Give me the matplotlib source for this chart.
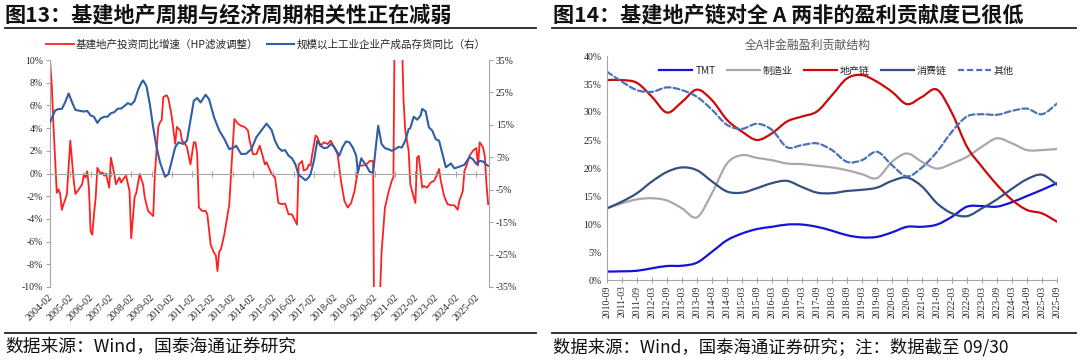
import numpy as np
import matplotlib.pyplot as plt
from matplotlib.path import Path
from matplotlib.patches import PathPatch
from matplotlib.lines import Line2D

plt.rcParams['font.family'] = ['Noto Sans CJK SC', 'DejaVu Sans']
NUM_FONT = 'Liberation Serif'

# ---------------------------------------------------------------------------
# Left chart data (month offset from 2004-02, value in %)
# ---------------------------------------------------------------------------
red_m = [0, 1, 2, 3, 4, 5, 6, 7, 8, 9, 10, 11, 12, 13, 14, 15, 17, 19, 20, 21,
         22, 23, 24, 25, 26, 27, 28, 30, 31, 32, 33, 35, 36, 38, 39, 41, 42, 44,
         45, 47, 48, 50, 51, 53, 55, 56, 58, 59, 61, 62, 64, 65, 66, 67, 69, 70,
         72, 74, 75, 77, 78, 80, 81, 83, 85, 86, 87, 88, 90, 92, 93, 95, 97, 98,
         99, 100, 101, 103, 105, 106, 107, 109, 111, 113, 115, 117, 118, 120,
         122, 124, 126, 127, 128, 131, 133, 135, 137, 139, 141, 143, 145, 146,
         147, 149, 150, 152, 153, 154, 155, 157, 158, 160, 162, 164, 166, 168,
         170, 172, 174, 176, 178, 180, 182, 183, 185, 187, 189, 191, 192, 193,
         194, 195, 196, 198, 200, 202, 203, 204, 205, 206, 207, 208, 209, 210,
         212, 213, 215, 216, 217, 218, 220, 221, 223, 225, 227, 229, 230, 231,
         233, 235, 237, 239, 241, 242, 244, 245, 246, 248, 250, 252, 253, 254,
         256, 257, 258, 259]
red_v = [10.0, 7.9, 4.4, 1.4, -1.7, -1.4, -1.8, -3.2, -2.7, -2.3, -1.8, 0.5,
         2.9, 1.2, -0.6, -1.8, -1.4, -0.95, -0.05, -0.35, 0.2, -1.25, -5.1, -5.4,
         -3.6, -2.1, 0.5, -0.05, 0.1, -0.2, 0.0, -1.25, 1.4, -0.05, -0.95, -0.35,
         -0.8, -0.35, -0.2, -1.55, -5.7, -2.1, -1.7, -0.05, -0.95, -2.1, -3.3,
         -3.45, -3.75, -0.05, 4.1, 4.5, 4.7, 6.75, 6.9, 6.6, 5.0, 2.6, 4.1, 3.8,
         2.9, 2.6, 2.3, 0.8, 2.75, 2.75, 1.7, -3.0, -3.3, -3.3, -3.6, -6.3, -7.0,
         -7.2, -8.6, -6.9, -6.7, -5.4, -3.6, -2.7, -0.05, 4.8, 4.4, 4.2, 4.1, 3.8,
         2.9, 1.7, 1.7, 2.45, 1.4, 0.8, 1.0, -0.05, -0.35, -2.6, -2.7, -2.65,
         -3.6, -3.6, -4.2, -4.5, 0.8, 1.1, 0.25, 0.4, 0.8, 0.7, 1.7, 3.35, 3.2,
         2.45, 2.75, 2.6, 2.9, 2.3, 1.7, -0.65, -2.4, -3.0, -2.6, -1.55, 0.25,
         0.7, 0.7, 0.8, 1.1, 1.1, -24.0, -26.0, -22.0, -11.0, -6.9, -3.0, -1.7,
         -0.65, -0.35, 18.0, 32.0, 30.0, 22.0, 12.0, 6.4, 3.8, 2.0, -0.95, -2.1,
         -2.6, 1.4, 1.55, -1.25, -1.1, -1.25, -0.8, -0.65, -0.05, 0.4, -0.65,
         -2.0, -2.7, -2.8, -2.8, -3.2, -2.4, -1.55, 0.25, 0.6, 1.55, 2.0, 2.25,
         0.7, 2.75, 2.3, 1.55, -0.95, -2.7]

blue_m = [0, 3, 5, 7, 9, 11, 13, 15, 18, 20, 22, 24, 26, 28, 30, 32, 34, 36, 38,
          40, 42, 44, 46, 48, 50, 52, 54, 55, 57, 59, 61, 63, 65, 68, 70, 72, 74,
          76, 79, 81, 83, 85, 87, 89, 92, 94, 97, 100, 103, 106, 109, 110, 113,
          116, 119, 122, 125, 128, 131, 133, 135, 137, 139, 141, 143, 145, 147,
          149, 151, 153, 154, 156, 158, 160, 162, 164, 166, 168, 171, 173, 175,
          177, 179, 181, 182, 184, 185, 187, 189, 191, 193, 194, 196, 198, 200,
          202, 204, 206, 208, 210, 212, 213, 215, 217, 219, 220, 222, 224, 226,
          228, 230, 232, 234, 236, 237, 239, 242, 245, 248, 250, 252, 254, 256,
          258, 259]
blue_v = [15.8, 19.4, 19.9, 19.9, 22.0, 24.7, 22.0, 19.6, 19.3, 19.1, 19.3, 17.9,
          17.5, 15.6, 17.0, 17.5, 17.5, 18.6, 18.9, 20.0, 20.0, 20.8, 21.7, 21.2,
          22.4, 25.7, 28.0, 28.7, 27.0, 21.4, 14.2, 8.1, 3.5, -1.0, -0.2, 3.9,
          8.1, 9.6, 9.1, 10.2, 16.3, 22.4, 23.3, 21.9, 24.3, 22.9, 17.3, 13.3,
          10.7, 7.5, 8.1, 8.6, 6.0, 6.1, 7.5, 11.2, 13.3, 15.4, 13.4, 10.1, 8.0,
          7.0, 7.2, 5.5, 4.7, 2.9, -0.5, -1.2, -2.1, -1.2, -0.2, 3.9, 10.1, 8.5,
          7.8, 8.0, 9.1, 8.2, 5.5, 8.2, 9.9, 9.6, 8.0, 5.5, 0.3, 4.7, 3.9, 2.4,
          0.5, 0.3, 10.1, 14.7, 9.1, 7.8, 7.5, 7.0, 7.5, 8.2, 8.0, 10.1, 13.7,
          14.0, 17.5, 16.6, 17.8, 19.9, 19.2, 14.2, 13.2, 10.6, 10.1, 6.0, 1.9,
          2.7, 3.1, 1.6, 2.1, 2.7, 5.1, 4.4, 2.9, 3.9, 3.7, 2.7, 2.4]

left_xlabels = ['2004-02', '2005-02', '2006-02', '2007-02', '2008-02', '2009-02',
                '2010-02', '2011-02', '2012-02', '2013-02', '2014-02', '2015-02',
                '2016-02', '2017-02', '2018-02', '2019-02', '2020-02', '2021-02',
                '2022-02', '2023-02', '2024-02', '2025-02']
left_xticks = [12 * i for i in range(len(left_xlabels))]

# ---------------------------------------------------------------------------
# Right chart data (half-yearly, profit share in %)
# ---------------------------------------------------------------------------
periods = ['2010-09', '2011-03', '2011-09', '2012-03', '2012-09', '2013-03',
           '2013-09', '2014-03', '2014-09', '2015-03', '2015-09', '2016-03',
           '2016-09', '2017-03', '2017-09', '2018-03', '2018-09', '2019-03',
           '2019-09', '2020-03', '2020-09', '2021-03', '2021-09', '2022-03',
           '2022-09', '2023-03', '2023-09', '2024-03', '2024-09', '2025-03',
           '2025-09']
tmt = [1.5, 1.55, 1.65, 2.1, 2.5, 2.55, 3.1, 5.05, 7.1, 8.3, 9.1, 9.5, 9.9, 9.9,
       9.5, 8.8, 8.0, 7.6, 7.7, 8.5, 9.5, 9.5, 9.9, 11.3, 13.1, 13.2, 13.1, 13.9,
       15.0, 16.1, 17.3]
manufacturing = [12.8, 13.7, 14.4, 14.6, 14.2, 12.8, 11.2, 15.5, 20.8, 22.3,
                 21.8, 21.4, 20.8, 20.7, 20.4, 20.1, 19.6, 18.9, 18.2, 21.1,
                 22.6, 21.1, 19.9, 20.8, 22.0, 23.8, 25.3, 24.4, 23.2, 23.2,
                 23.4]
property_chain = [35.7, 35.7, 35.2, 32.7, 29.9, 31.8, 34.0, 32.1, 28.6, 26.5,
                  25.0, 26.2, 28.3, 29.2, 30.1, 33.0, 36.0, 36.6, 35.4, 33.6,
                  31.4, 32.7, 34.0, 29.8, 23.8, 20.2, 17.0, 14.3, 12.5, 11.9,
                  10.4]
consumer_chain = [12.8, 14.0, 15.5, 17.6, 19.3, 20.1, 19.6, 17.6, 15.8, 15.6,
                  16.4, 17.3, 17.7, 16.6, 15.6, 15.5, 15.9, 16.1, 16.5, 17.7,
                  18.3, 16.7, 13.7, 11.9, 11.4, 12.8, 14.4, 16.3, 18.0, 18.8,
                  17.0]
others = [37.2, 35.4, 33.9, 33.6, 34.4, 33.9, 32.7, 30.4, 27.7, 27.0, 27.9, 26.8,
          23.7, 24.1, 24.4, 23.2, 21.1, 21.4, 22.9, 20.5, 18.5, 20.1, 22.9, 26.5,
          29.2, 29.6, 29.5, 30.2, 30.6, 29.6, 31.5]

right_series = [
    ('TMT', tmt, '#1414D8', '-'),
    ('制造业', manufacturing, '#A9A9A9', '-'),
    ('地产链', property_chain, '#CC0A0A', '-'),
    ('消费链', consumer_chain, '#34507E', '-'),
    ('其他', others, '#4A72B8', (0, (2.7, 1.4))),
]


def smooth_path(x, y):
    """Bezier path through the points (Excel-like smoothed line)."""
    x = np.asarray(x, float)
    y = np.asarray(y, float)
    n = len(x)
    verts = [(x[0], y[0])]
    codes = [Path.MOVETO]
    for i in range(n - 1):
        i0 = max(i - 1, 0)
        i3 = min(i + 2, n - 1)
        c1 = (x[i] + (x[i + 1] - x[i0]) / 6, y[i] + (y[i + 1] - y[i0]) / 6)
        c2 = (x[i + 1] - (x[i3] - x[i]) / 6, y[i + 1] - (y[i3] - y[i]) / 6)
        verts += [c1, c2, (x[i + 1], y[i + 1])]
        codes += [Path.CURVE4] * 3
    return Path(verts, codes)


GRID = '#A6A6A6'
TXT = '#262626'

fig = plt.figure(figsize=(10.8, 3.6), dpi=100)

# ---------------------------------------------------------------------------
# Titles, rules, footers
# ---------------------------------------------------------------------------
fig.text(5 / 1080, 1 - 15 / 360, '图13：基建地产周期与经济周期相关性正在减弱',
         fontsize=15.2, fontweight='bold', va='center', ha='left', color='#111111')
fig.text(553 / 1080, 1 - 15 / 360, '图14：基建地产链对全 A 两非的盈利贡献度已很低',
         fontsize=15.2, fontweight='bold', va='center', ha='left', color='#111111')
for x0, x1 in [(5, 536), (552, 1076)]:
    for yy in (28, 333):
        fig.add_artist(Line2D([x0 / 1080, x1 / 1080], [1 - yy / 360] * 2,
                              color='#222222', lw=1.3))
fig.text(5 / 1080, 1 - 347 / 360, '数据来源：Wind，国泰海通证券研究',
         fontsize=12.8, va='center', ha='left', color='#111111')
fig.text(553 / 1080, 1 - 347 / 360,
         '数据来源：Wind，国泰海通证券研究；注：数据截至 09/30',
         fontsize=12.5, va='center', ha='left', color='#111111')

# ---------------------------------------------------------------------------
# Left chart
# ---------------------------------------------------------------------------
ax = fig.add_axes([50 / 1080, 1 - 287 / 360, 439 / 1080, 227 / 360])
ax.plot(red_m, red_v, color='#FF2020', lw=1.3, label='基建地产投资同比增速（HP滤波调整）')
ax.set_xlim(0, 259.5)
ax.set_ylim(-10, 10)
ax.set_yticks(np.arange(-10, 11, 2))
ax.set_yticklabels([f'{v}%' for v in range(-10, 11, 2)])
ax.spines['top'].set_visible(False)
ax.spines['right'].set_visible(False)
ax.spines['left'].set_color(GRID)
ax.spines['bottom'].set_position(('data', 0))
ax.spines['bottom'].set_color(GRID)
ax.set_xticks(left_xticks)
ax.tick_params(axis='x', direction='inout', length=4, color=GRID, labelbottom=False)
ax.tick_params(axis='y', direction='out', length=3, color=GRID, pad=2)
for lab in ax.get_yticklabels():
    lab.set_fontfamily(NUM_FONT)
    lab.set_fontsize(7)
    lab.set_color(TXT)
for xt, lab in zip(left_xticks, left_xlabels):
    ax.text(xt + 1, -0.04, lab, transform=ax.get_xaxis_transform(), rotation=45,
            rotation_mode='anchor', ha='right', va='center', fontsize=7.2,
            fontfamily=NUM_FONT, color=TXT)

ax2 = ax.twinx()
ax2.plot(blue_m, blue_v, color='#2F5DA6', lw=1.5, label='规模以上工业企业产成品存货同比（右）')
ax2.set_ylim(-35, 35)
ax2.set_yticks(np.arange(-35, 36, 10))
ax2.set_yticklabels([f'{v}%' for v in range(-35, 36, 10)])
for s in ['top', 'left', 'bottom']:
    ax2.spines[s].set_visible(False)
ax2.spines['right'].set_color(GRID)
ax2.tick_params(axis='y', direction='out', length=3, color=GRID, pad=2)
for lab in ax2.get_yticklabels():
    lab.set_fontfamily(NUM_FONT)
    lab.set_fontsize(7)
    lab.set_color(TXT)

h1, l1 = ax.get_legend_handles_labels()
h2, l2 = ax2.get_legend_handles_labels()
ax2.legend(h1 + h2, l1 + l2, loc='center', bbox_to_anchor=(0.492, 1.068), ncol=2,
           frameon=False, fontsize=7.6, handlelength=2.6, handletextpad=0.2,
           columnspacing=0.8, labelcolor=TXT)

# ---------------------------------------------------------------------------
# Right chart
# ---------------------------------------------------------------------------
bx = fig.add_axes([607 / 1080, 1 - 280 / 360, 450 / 1080, 224 / 360])
xs = np.arange(len(periods))
handles = []
for name, vals, col, ls in right_series:
    bx.add_patch(PathPatch(smooth_path(xs, vals), fill=False, edgecolor=col,
                           lw=1.6, linestyle=ls, capstyle='round'))
    handles.append(Line2D([], [], color=col, lw=1.6, linestyle=ls, label=name))
bx.set_xlim(0, len(periods) - 1)
bx.set_ylim(0, 40)
bx.set_yticks(np.arange(0, 41, 5))
bx.set_yticklabels([f'{v}%' for v in range(0, 41, 5)])
bx.set_xticks(xs)
bx.set_xticklabels(periods, rotation=90)
for s in ['top', 'right']:
    bx.spines[s].set_visible(False)
bx.spines['left'].set_color(GRID)
bx.spines['bottom'].set_color(GRID)
bx.tick_params(axis='x', direction='inout', length=4, color=GRID, pad=2)
bx.tick_params(axis='y', direction='out', length=0, color=GRID, pad=4)
for lab in bx.get_xticklabels() + bx.get_yticklabels():
    lab.set_fontfamily(NUM_FONT)
    lab.set_fontsize(7)
    lab.set_color(TXT)
bx.set_title('全A非金融盈利贡献结构', fontsize=8.6, color='#595959', pad=5,
             x=0.445)
bx.legend(handles=handles, loc='center', bbox_to_anchor=(0.51, 0.935), ncol=5,
          frameon=False, fontsize=7.2, handlelength=3.3, handletextpad=0.3,
          columnspacing=1.1, labelcolor=TXT)

fig.savefig('out.png', dpi=100)
